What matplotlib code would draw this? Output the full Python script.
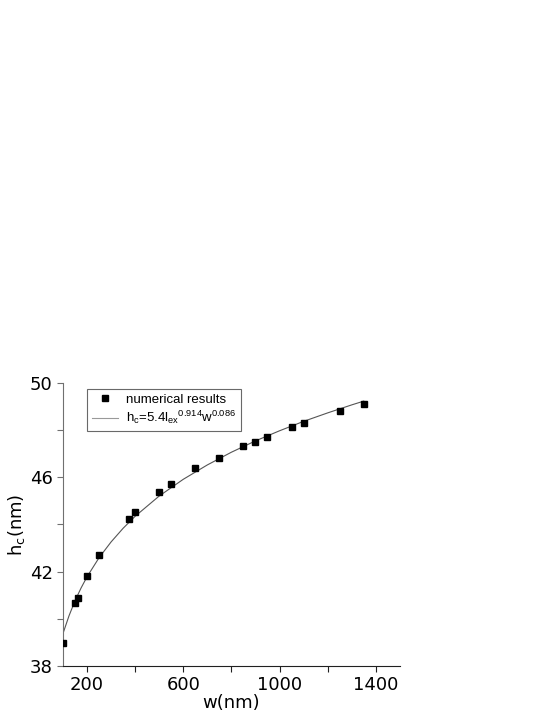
import matplotlib
matplotlib.use("Agg")
import matplotlib.pyplot as plt

plt.rcParams["mathtext.default"] = "regular"

# numerical results
w_num = [100, 151, 161, 200, 250, 375, 400, 500, 550, 650, 750,
         850, 900, 950, 1050, 1100, 1250, 1350]
hc_num = [38.98, 40.65, 40.89, 41.81, 42.70, 44.22, 44.52, 45.37, 45.72,
          46.42, 46.81, 47.32, 47.51, 47.70, 48.12, 48.33, 48.81, 49.11]

# fitted curve
w_fit = [100, 125, 150, 175, 200, 250, 300, 350, 400, 500, 600, 700, 800,
         900, 1000, 1100, 1200, 1300, 1350]
hc_fit = [39.37, 40.12, 40.76, 41.30, 41.78, 42.59, 43.26, 43.84, 44.35,
          45.21, 45.92, 46.53, 47.07, 47.55, 47.98, 48.38, 48.74, 49.08, 49.24]

x_major = [200, 600, 1000, 1400]
x_minor = [400, 800, 1200]
y_major = [38, 42, 46, 50]
y_minor = [40, 44, 48]

fit_label = r"h$_c$=5.4l$_{ex}$$^{0.914}$w$^{0.086}$"

fig = plt.figure(figsize=(5.54, 7.17), dpi=100)
ax = fig.add_axes([0.1137, 0.0715, 0.608, 0.394])

ax.plot(w_fit, hc_fit, color="#555555", lw=0.8, label=fit_label, zorder=2)
ax.plot(w_num, hc_num, "s", color="black", ms=5, ls="none",
        label="numerical results", zorder=3)

ax.set_xlim(100, 1500)
ax.set_ylim(38, 50)
ax.set_xticks(x_major)
ax.set_xticks(x_minor, minor=True)
ax.set_yticks(y_major)
ax.set_yticks(y_minor, minor=True)

for s in ["top", "right"]:
    ax.spines[s].set_visible(False)
ax.spines["left"].set_color("#707070")
ax.spines["bottom"].set_color("#202020")
ax.tick_params(axis="both", which="both", direction="out", length=4,
               width=0.8, labelsize=13)
ax.tick_params(axis="y", which="both", colors="#707070", labelcolor="black")
ax.tick_params(axis="x", which="both", colors="#202020", labelcolor="black")

ax.set_xlabel("w(nm)", fontsize=13, labelpad=0)
ax.set_ylabel(r"h$_{\rm c}$(nm)", fontsize=13, labelpad=2)

handles, labels = ax.get_legend_handles_labels()
handles[0].set_color("#999999")
leg = ax.legend(handles[::-1], labels[::-1], loc="upper left",
                bbox_to_anchor=(0.052, 1.003),
                prop={"family": "Liberation Sans", "size": 9.5},
                frameon=True, fancybox=False, edgecolor="#444444",
                handlelength=2.0, handletextpad=0.6, borderpad=0.35,
                labelspacing=0.25)
leg.get_frame().set_linewidth(0.8)
# restore the curve colour after the legend picked it up
handles[0].set_color("#555555")

fig.savefig("out.png", dpi=100)
